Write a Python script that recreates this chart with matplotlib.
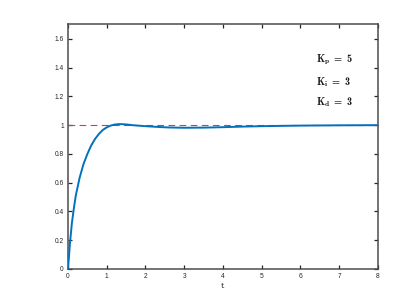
import matplotlib
matplotlib.use("Agg")
import matplotlib.pyplot as plt

# Step response
t = [0, 0.05, 0.1, 0.15, 0.2, 0.3, 0.4, 0.5, 0.6, 0.7, 0.8, 0.9, 1.0, 1.1, 1.2,
     1.3, 1.4, 1.5, 1.7, 2.0, 2.3, 2.6, 3.0, 3.5, 4.0, 4.5, 5.0, 5.5, 6.0, 7.0, 8.0]
y = [0, 0.18, 0.32, 0.42, 0.51, 0.635, 0.73, 0.80, 0.86, 0.905, 0.94, 0.967, 0.985,
     0.997, 1.004, 1.007, 1.007, 1.005, 0.999, 0.993, 0.988, 0.984, 0.982, 0.983,
     0.986, 0.990, 0.993, 0.995, 0.997, 0.999, 1.000]
ref_level = 1.0
x_ticks = [0, 1, 2, 3, 4, 5, 6, 7, 8]
y_ticks = [0, 0.2, 0.4, 0.6, 0.8, 1.0, 1.2, 1.4, 1.6]
y_tick_labels = ["0", "0.2", "0.4", "0.6", "0.8", "1", "1.2", "1.4", "1.6"]
gain_labels = [r"$\mathrm{K_p\ =\ 5}$", r"$\mathrm{K_i\ =\ 3}$", r"$\mathrm{K_d\ =\ 3}$"]
gain_y = [1.454, 1.303, 1.157]
gain_x = 6.4

plt.rcParams["mathtext.fontset"] = "custom"
plt.rcParams["mathtext.rm"] = "cmb10"
plt.rcParams["mathtext.it"] = "cmb10"
plt.rcParams["mathtext.bf"] = "cmb10"

fig = plt.figure(figsize=(4.11, 3.02), dpi=100)
ax = fig.add_axes([0.1655, 0.1093, 0.754, 0.8096])

ax.plot([0, 8], [ref_level, ref_level], color="#d63a4a", lw=0.8, ls=(0, (6, 4)), zorder=2)
ax.plot(t, y, color="#0072BD", lw=1.4, zorder=3)

ax.set_xlim(0, 8)
ax.set_ylim(0, 1.7)
ax.set_xticks(x_ticks)
ax.set_xticklabels([str(v) for v in x_ticks])
ax.set_yticks(y_ticks)
ax.set_yticklabels(y_tick_labels)

for s in ax.spines.values():
    s.set_color("#4d4d4d")
    s.set_linewidth(1.1)

ax.tick_params(direction="in", length=3, width=0.9, color="#262626",
               top=True, right=True, labelsize=4.8, labelcolor="#262626", pad=3)
for lab in ax.get_xticklabels() + ax.get_yticklabels():
    lab.set_family("Liberation Sans")

ax.set_xlabel("t", family="DejaVu Serif", fontsize=6, labelpad=1, color="#262626")

for lbl, gy in zip(gain_labels, gain_y):
    ax.text(gain_x, gy, lbl, fontsize=7.5, va="center", ha="left", color="#1a1a1a")

fig.savefig("out.png", dpi=100)
